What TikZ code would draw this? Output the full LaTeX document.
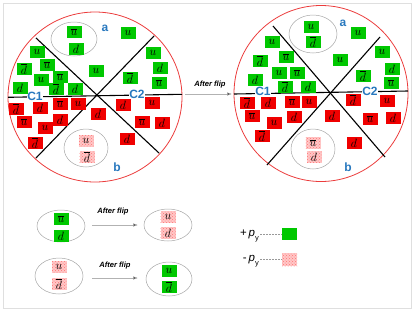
\documentclass[tikz,border=0pt]{standalone}
\usepackage{fontspec}
\setsansfont{Liberation Sans}
\usetikzlibrary{arrows.meta,patterns}
\definecolor{qgreen}{RGB}{0,200,0}
\definecolor{qred}{RGB}{240,0,0}
\definecolor{lblue}{RGB}{40,120,190}
\definecolor{circred}{RGB}{235,60,60}
\tikzset{
  qbox/.style={minimum width=15pt,minimum height=11.5pt,inner sep=0pt,font=\fontsize{12.5}{12.5}\selectfont},
  gbox/.style={qbox,fill=qgreen},
  rbox/.style={qbox,fill=qred},
  pbox/.style={qbox,preaction={fill=red!22},pattern=crosshatch dots,pattern color=red!55},
  ring/.style={draw=circred,line width=0.8pt},
  cut/.style={draw=black,line width=1.1pt},
  bag/.style={draw=gray!70,line width=0.5pt},
  lbl/.style={text=lblue,font=\sffamily\bfseries\fontsize{12}{12}\selectfont,inner sep=0.3pt},
  flipt/.style={font=\sffamily\bfseries\itshape\fontsize{7.6}{7.6}\selectfont},
  fliparrow/.style={draw=gray!60,line width=0.5pt,-{Latex[length=5pt,width=3.5pt,fill=black]}},
  legt/.style={font=\sffamily\fontsize{11.5}{11.5}\selectfont,anchor=east,inner sep=1pt},
  legline/.style={gray!80,dashed,dash pattern=on 2pt off 1pt,line width=0.9pt},
}
\newcommand\ub{$\overline{u}$}
\newcommand\db{$\overline{d}$}
\begin{document}
\begin{tikzpicture}[x=1pt,y=-1pt]
\useasboundingbox (0,0) rectangle (415,311);
\draw[gray!25,line width=0.8pt] (3,3) rectangle (411,308);

% ---------- left circle ----------
\coordinate (Lc) at (95,97);
\draw[ring] (Lc) ellipse[x radius=87,y radius=85];
\draw[cut] (8,97.3) -- (182,94.3);
\draw[cut] (36,38) -- (159,153);
\draw[cut] (154,36) -- (36,158);
\draw[bag] (74,39) ellipse[x radius=23,y radius=17];
\draw[bag] (86,148) ellipse[x radius=22,y radius=19];
\node[lbl] (La) at (105,28) {a};
\node[lbl] (Lb) at (117,167) {b};
\node[lbl,fill=white] (LC1) at (35,96) {C1};
\node[lbl,fill=white] (LC2) at (137,94) {C2};
% green
\node[gbox] (lg1) at (74,32) {\ub};
\node[gbox] (lg2) at (76,49) {$d$};
\node[gbox] (lg3) at (128,33) {$u$};
\node[gbox] (lg4) at (37,52) {$u$};
\node[gbox] (lg5) at (24,69) {\db};
\node[gbox] (lg6) at (47,65) {\ub};
\node[gbox] (lg7) at (96,71) {$u$};
\node[gbox] (lg8) at (41,80) {$u$};
\node[gbox] (lg9) at (60,77) {\ub};
\node[gbox] (lg10) at (20,88) {$d$};
\node[gbox] (lg11) at (56,89) {\db};
\node[gbox] (lg12) at (75,89) {$d$};
\node[gbox] (lg13) at (130,78) {\db};
\node[gbox] (lg14) at (153,53) {$u$};
\node[gbox] (lg15) at (160,68) {$d$};
\node[gbox] (lg16) at (159,83) {\ub};
% red
\node[rbox] (lr1) at (16,109) {\db};
\node[rbox] (lr2) at (40,108) {$d$};
\node[rbox] (lr3) at (60,104) {\ub};
\node[rbox] (lr4) at (78,104) {$u$};
\node[rbox] (lr5) at (24,122) {\ub};
\node[rbox] (lr6) at (60,120) {$d$};
\node[rbox] (lr7) at (45,128) {$u$};
\node[rbox] (lr8) at (35,143) {\db};
\node[rbox] (lr9) at (98,114) {$d$};
\node[rbox] (lr10) at (123,105) {$d$};
\node[rbox] (lr11) at (152,103) {$u$};
\node[rbox] (lr12) at (142,122) {\ub};
\node[rbox] (lr13) at (162,123) {$d$};
\node[rbox] (lr14) at (127,139) {$d$};
% pink
\node[pbox] (lp1) at (86,141) {$u$};
\node[pbox] (lp2) at (87,157) {\db};

% ---------- middle arrow ----------
\coordinate (mA) at (185,94);
\coordinate (mB) at (232,94);
\draw[fliparrow] (mA) -- (mB);
\node[flipt] (mt) at (210,85) {After flip};

% ---------- right circle ----------
\coordinate (Rc) at (321,93.5);
\draw[ring] (Rc) ellipse[x radius=87,y radius=88];
\draw[cut] (234,94) -- (408,91);
\draw[cut] (273,26) -- (385,157);
\draw[cut] (380,37) -- (267,165);
\draw[bag] (313,34) ellipse[x radius=24,y radius=19];
\draw[bag] (313,149) ellipse[x radius=22,y radius=20];
\node[lbl] (Ra) at (343,23) {a};
\node[lbl] (Rb) at (348,167) {b};
\node[lbl,fill=white] (RC1) at (263,91) {C1};
\node[lbl,fill=white] (RC2) at (370,91) {C2};
% green
\node[gbox] (rg1) at (311,27) {$u$};
\node[gbox] (rg2) at (313,42) {\db};
\node[gbox] (rg3) at (358,33) {$u$};
\node[gbox] (rg4) at (272,42) {$u$};
\node[gbox] (rg5) at (286,57) {\ub};
\node[gbox] (rg6) at (260,61) {\db};
\node[gbox] (rg7) at (340,60) {$u$};
\node[gbox] (rg8) at (279,73) {$u$};
\node[gbox] (rg9) at (297,73) {\ub};
\node[gbox] (rg10) at (382,52) {$u$};
\node[gbox] (rg11) at (392,69) {$d$};
\node[gbox] (rg12) at (391,83) {\ub};
\node[gbox] (rg13) at (255,80) {$d$};
\node[gbox] (rg14) at (285,87) {\db};
\node[gbox] (rg15) at (308,87) {$d$};
\node[gbox] (rg16) at (363,76) {\db};
% red
\node[rbox] (rr1) at (247,103) {\db};
\node[rbox] (rr2) at (268,103) {$d$};
\node[rbox] (rr3) at (292,102) {\ub};
\node[rbox] (rr4) at (309,102) {$u$};
\node[rbox] (rr5) at (252,116) {\ub};
\node[rbox] (rr6) at (274,123) {$u$};
\node[rbox] (rr7) at (294,117) {$d$};
\node[rbox] (rr8) at (262,136) {\db};
\node[rbox] (rr9) at (332,116) {$d$};
\node[rbox] (rr10) at (353,100) {\db};
\node[rbox] (rr11) at (387,101) {$u$};
\node[rbox] (rr12) at (370,119) {\ub};
\node[rbox] (rr13) at (393,118) {$d$};
\node[rbox] (rr14) at (354,143) {$d$};
% pink
\node[pbox] (rp1) at (313,143) {\ub};
\node[pbox] (rp2) at (314,157) {$d$};

% ---------- bottom examples ----------
\draw[bag] (61,226) ellipse[x radius=24,y radius=16];
\node[gbox] (b1a) at (61,219) {\ub};
\node[gbox] (b1b) at (61,236) {$d$};
\draw[bag] (168,225) ellipse[x radius=24,y radius=16];
\node[pbox] (b2a) at (168,217) {$u$};
\node[pbox] (b2b) at (168,233) {$d$};
\coordinate (a1s) at (92,225);
\coordinate (a1e) at (138,225);
\draw[fliparrow] (a1s) -- (a1e);
\node[flipt] (t1) at (113,212) {After flip};

\draw[bag] (59,276) ellipse[x radius=24,y radius=18];
\node[pbox] (b3a) at (59,267) {$u$};
\node[pbox] (b3b) at (59,284) {\db};
\draw[bag] (169,279) ellipse[x radius=23,y radius=17];
\node[gbox] (b4a) at (169,271) {$u$};
\node[gbox] (b4b) at (169,287) {\db};
\coordinate (a2s) at (92,278);
\coordinate (a2e) at (138,278);
\draw[fliparrow] (a2s) -- (a2e);
\node[flipt] (t2) at (115,266) {After flip};

% ---------- legend ----------
\node[legt] (lp) at (260,236) {+\,\textit{p}\raisebox{-0.7ex}{\fontsize{7.5}{7.5}\selectfont y}};
\node[gbox,minimum width=15pt,minimum height=12pt] (lsq1) at (289.5,234) {};
\draw[legline] (lp.east |- lsq1.west) -- (lsq1.west);
\node[legt] (lm) at (260,261) {-\,\textit{p}\raisebox{-0.7ex}{\fontsize{7.5}{7.5}\selectfont y}};
\node[pbox,minimum width=15pt,minimum height=13pt] (lsq2) at (289.5,259.5) {};
\draw[legline] (lm.east |- lsq2.west) -- (lsq2.west);
\end{tikzpicture}
\end{document}
